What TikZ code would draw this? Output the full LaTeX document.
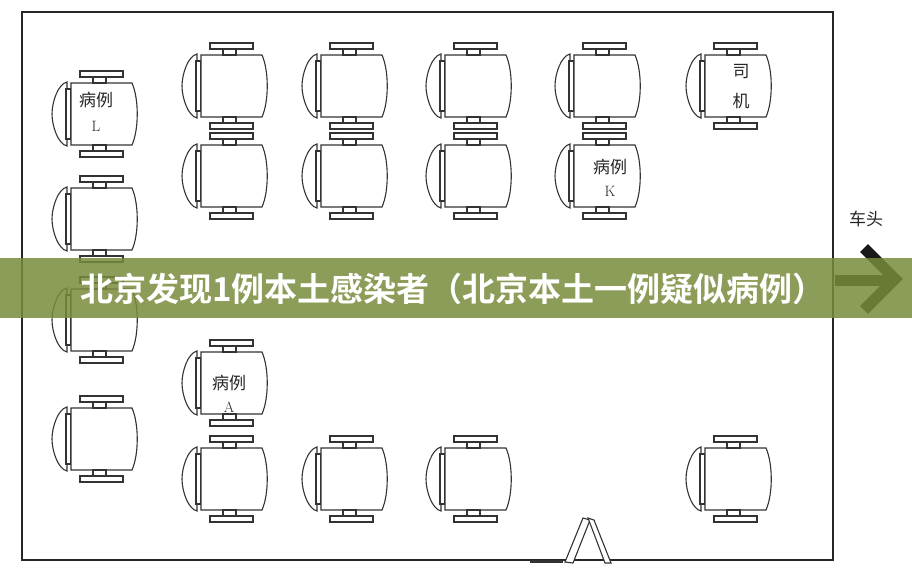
\documentclass[tikz,border=0pt]{standalone}
\usepackage{fontspec}
\newfontfamily\cjk{Noto Sans CJK SC}
\newfontfamily\cjkb{Noto Sans CJK SC Bold}
\begin{document}
\begin{tikzpicture}[x=1pt,y=-1pt,
  ln/.style={draw=black!80,line width=1.1pt,fill=white},
  seattext/.style={font=\cjk\fontsize{17}{19}\selectfont,text=black!85},
  lat/.style={font=\rmfamily\fontsize{15}{17}\selectfont,text=black!85},
  seat/.pic={
    \path[ln] (-37,-32) .. controls (-46,-30) and (-52,-12) .. (-52,0) .. controls (-52,12) and (-46,30) .. (-37,32) -- cycle;
    \path[ln] (-38,-25) rectangle (-33,25);
    \path[ln] (-33,-31) -- (28,-31) .. controls (35,-15) and (35,15) .. (28,31) -- (-33,31) -- cycle;
    \path[ln] (-24,-43) rectangle (19,-37);
    \path[ln] (-11,-37) rectangle (2,-31);
    \path[ln] (-24,43) rectangle (19,37);
    \path[ln] (-11,37) rectangle (2,31);
  }]
\useasboundingbox (0,0) rectangle (912,576);
\fill[white] (0,0) rectangle (912,576);
\draw[black!85,line width=1.8pt] (22,12) rectangle (833,560);
% seats
\foreach \x in {234,354,478,607,738} \pic at (\x,86) {seat};
\foreach \x in {234,354,478,607} \pic at (\x,176) {seat};
\foreach \y in {114,219,320,439} \pic at (104,\y) {seat};
\pic at (234,383) {seat};
\foreach \x in {234,354,478,738} \pic at (\x,479) {seat};
% labels
\node[seattext] (drv1) at (741,72) {司};
\node[seattext] (drv2) at (741,101) {机};
\node[seattext] (k1) at (610,167) {病例};
\node[lat] (k2) at (610,191) {K};
\node[seattext] (l1) at (96,100) {病例};
\node[lat] (l2) at (96,126) {L};
\node[seattext] (a1) at (229,383) {病例};
\node[lat] (a2) at (229,407) {A};
% door
\draw[black!80,line width=3pt] (530,561) -- (563,561);
\path[ln] (565,562) -- (573,563) -- (590,520) -- (583,518) -- cycle;
\path[ln] (588,518) -- (594,520) -- (611,563) -- (605,563) -- cycle;
% front
\node[seattext] (head) at (866,219) {车头};
\draw[black!90,line width=11pt] (835,280) -- (888,280);
\draw[black!90,line width=11pt] (864,248) -- (895,279) -- (864,310);
% banner
\fill[fill={rgb,255:red,120;green,140;blue,60},opacity=0.85] (0,258) rectangle (912,318);
\node[font=\cjkb\fontsize{33}{36}\selectfont,text=white,anchor=west,inner sep=0pt] (title) at (80,289) {北京发现1例本土感染者（北京本土一例疑似病例）};
\end{tikzpicture}
\end{document}
